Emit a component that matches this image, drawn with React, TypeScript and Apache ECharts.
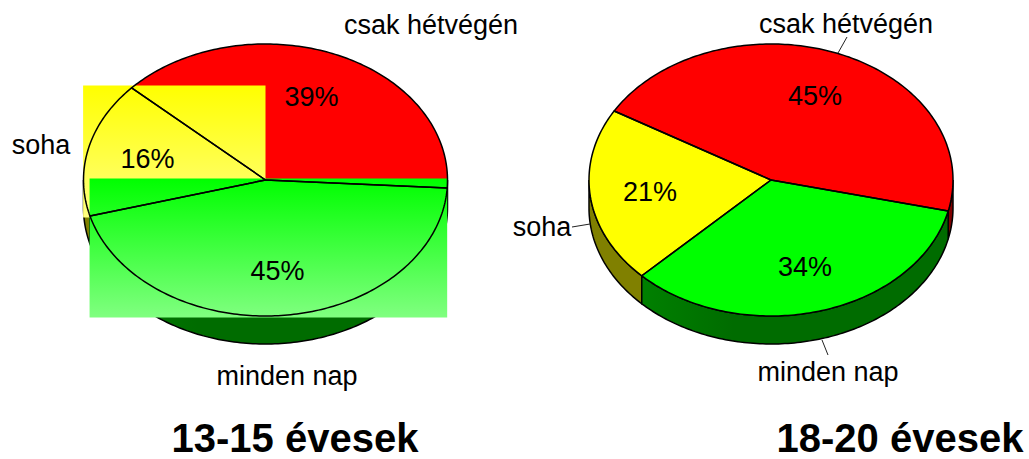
import React, { useEffect, useRef } from "react";
import * as echarts from "echarts";

const categories = ["csak hétvégén", "soha", "minden nap"];
const titles = ["13-15 évesek", "18-20 évesek"];
const values1315 = [39.1, 16.1, 44.8];
const values1820 = [45.2, 20.9, 33.9];

const topColors = ["#ff0000", "#ffff00", "#00ff00"];
const sideColors = ["#800000", "#808000", "#006c00"];
const fadeColors = ["#ff0000", "#ffff80", "#80ff80"];
const FONT = "'Liberation Sans', Arial, sans-serif";

type Pie = {
  values: number[];
  cx: number; cy: number; rx: number; ry: number; depth: number;
  start: number;
  overlays: boolean[];
  valueLabels: number[][];
  nameLabels: number[][];
  leaders: number[][][];
};

const pieLeft: Pie = {
  values: values1315,
  cx: 265.5, cy: 180, rx: 182, ry: 136, depth: 28,
  start: -3.4,
  overlays: [false, true, true],
  valueLabels: [[311.5, 97], [147.5, 159], [277.5, 271]],
  nameLabels: [[431, 25], [41, 145], [287, 376]],
  leaders: [],
};
const pieRight: Pie = {
  values: values1820,
  cx: 771, cy: 180, rx: 182, ry: 136, depth: 28,
  start: -13.2,
  overlays: [false, false, false],
  valueLabels: [[815, 96], [650, 192], [805, 267]],
  nameLabels: [[846, 24], [542, 227], [828, 372]],
  leaders: [
    [[847, 37], [838, 53]],
    [[572, 227], [590, 224]],
    [[822, 340], [828, 355]],
  ],
};

function arc(p: Pie, a0: number, a1: number, dy = 0): number[][] {
  const pts: number[][] = [];
  const n = Math.max(2, Math.ceil(Math.abs(a1 - a0)));
  for (let i = 0; i <= n; i++) {
    const a = ((a0 + ((a1 - a0) * i) / n) * Math.PI) / 180;
    pts.push([p.cx + p.rx * Math.cos(a), p.cy - p.ry * Math.sin(a) + dy]);
  }
  return pts;
}

function pieSeries(p: Pie, index: number) {
  const total = p.values.reduce((s, v) => s + v, 0);
  return {
    type: "custom",
    coordinateSystem: "none",
    silent: true,
    z: index + 2,
    data: p.values.map((v, i) => ({ name: categories[i], value: v })),
    renderItem: (params: any, api: any) => {
      const i = params.dataIndex;
      const before = p.values.slice(0, i).reduce((s, v) => s + v, 0);
      const a0 = p.start + (before / total) * 360;
      const a1 = a0 + (api.value(0) / total) * 360;
      const face = [[p.cx, p.cy], ...arc(p, a0, a1)];
      const children: any[] = [];

      // side wall: the part of the slice on the front half of the disc
      for (const k of [-360, 0, 360]) {
        const from = Math.max(a0 + k, 180);
        const to = Math.min(a1 + k, 360);
        if (to > from) {
          children.push({
            type: "polygon",
            z2: 1,
            shape: { points: [...arc(p, from, to), ...arc(p, to, from, p.depth)] },
            style: {
              fill:
                i === 2
                  ? new echarts.graphic.LinearGradient(0, 0, 1, 0, [
                      { offset: 0, color: "#008000" },
                      { offset: 0.3, color: sideColors[i] },
                      { offset: 1, color: sideColors[i] },
                    ])
                  : sideColors[i],
              stroke: "#000",
              lineWidth: 1.5,
            },
          });
        }
      }

      if (p.overlays[i]) {
        const xs = face.map((q) => q[0]);
        const ys = face.map((q) => q[1]);
        const x0 = Math.min(...xs) - 0.4, x1 = Math.max(...xs);
        const y0 = Math.floor(Math.min(...ys)) - 1.5, y1 = Math.max(...ys) + 1.5;
        children.push({
          type: "rect",
          z2: 2 + i,
          shape: { x: x0, y: y0, width: x1 - x0, height: y1 - y0 },
          style: {
            fill: new echarts.graphic.LinearGradient(0, 0, 0, 1, [
              { offset: 0, color: topColors[i] },
              { offset: 1, color: fadeColors[i] },
            ]),
          },
        });
      } else {
        children.push({
          type: "polygon",
          z2: 2,
          shape: { points: face },
          style: { fill: topColors[i] },
        });
      }
      children.push({
        type: "polygon",
        z2: 6,
        shape: { points: face },
        style: { fill: "none", stroke: "#000", lineWidth: 1.5, lineJoin: "round" },
      });

      const [vx, vy] = p.valueLabels[i];
      children.push({
        type: "text",
        z2: 8,
        style: { text: `${Math.round(api.value(0))}%`, x: vx, y: vy, align: "center", verticalAlign: "middle", font: `27px ${FONT}`, fill: "#000" },
      });
      const [nx, ny] = p.nameLabels[i];
      children.push({
        type: "text",
        z2: 8,
        style: { text: categories[i], x: nx, y: ny, align: "center", verticalAlign: "middle", font: `27px ${FONT}`, fill: "#000" },
      });
      const l = p.leaders[i];
      if (l) {
        children.push({
          type: "line",
          z2: 7,
          shape: { x1: l[0][0], y1: l[0][1], x2: l[1][0], y2: l[1][1] },
          style: { stroke: "#222", lineWidth: 1 },
        });
      }
      return { type: "group", children };
    },
  };
}

export default function App() {
  const ref = useRef<HTMLDivElement>(null);
  useEffect(() => {
    const chart = echarts.init(ref.current!, undefined, { renderer: "svg" });
    chart.setOption({
      animation: false,
      backgroundColor: "#ffffff",
      title: titles.map((text, i) => ({
        text,
        left: i === 0 ? 295 : 900,
        top: 419,
        padding: 0,
        textAlign: "center",
        textStyle: { fontFamily: FONT, fontWeight: "bold", fontSize: 40, lineHeight: 38, color: "#000" },
      })),
      series: [pieSeries(pieLeft, 0), pieSeries(pieRight, 1)],
    });
    return () => chart.dispose();
  }, []);
  return <div ref={ref} style={{ position: "fixed", left: 0, top: 0, width: 1029, height: 459 }} />;
}
